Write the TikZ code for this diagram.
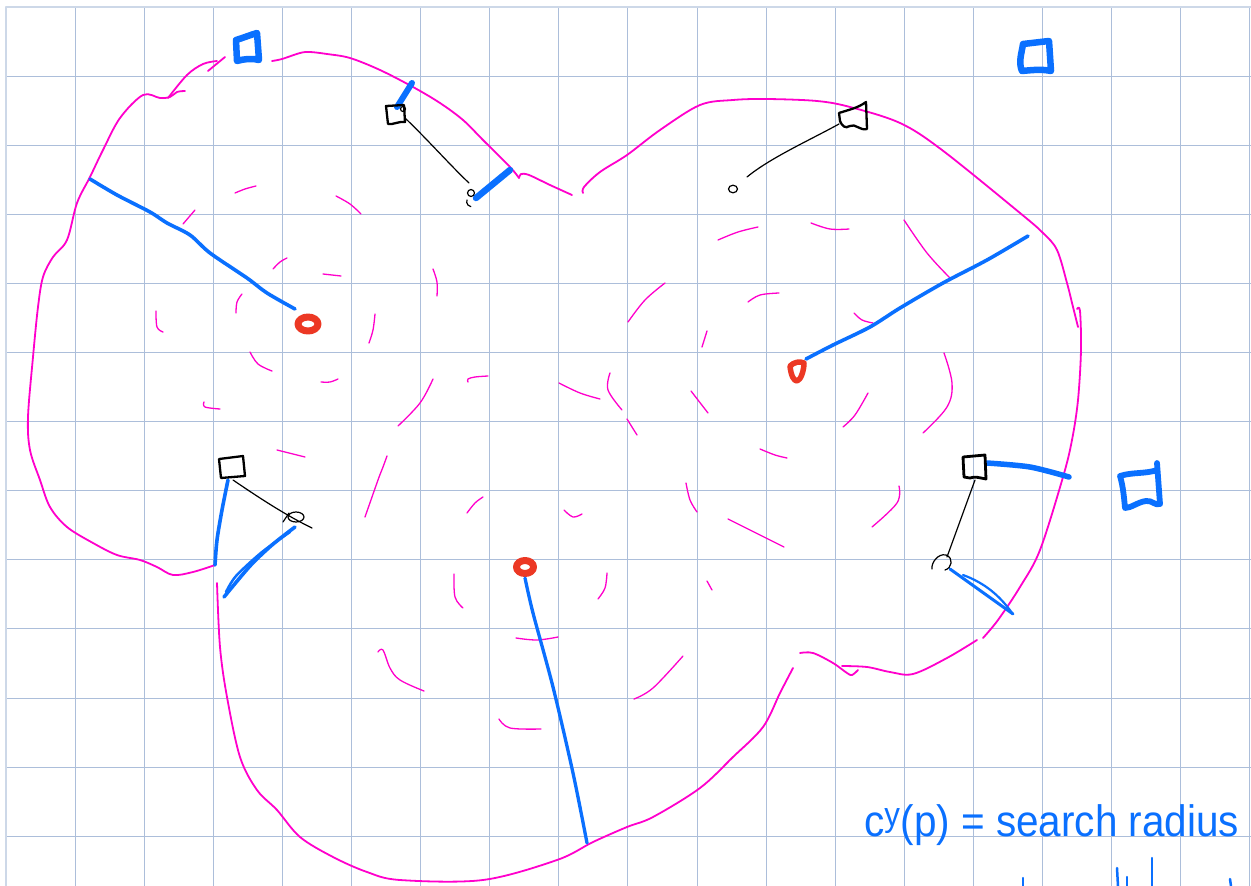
\documentclass[tikz,border=0pt]{standalone}
\usepackage{fontspec}
\setmainfont{Liberation Sans}
\definecolor{gridc}{RGB}{172,190,218}
\definecolor{gridb}{RGB}{205,216,232}
\definecolor{pinkc}{RGB}{255,0,204}
\definecolor{penblue}{RGB}{10,112,255}
\definecolor{redc}{RGB}{236,56,36}
\begin{document}
\begin{tikzpicture}[x=1pt,y=-1pt, line cap=round, line join=round,
  gridline/.style={draw=gridc, line width=0.9pt},
  outline/.style={draw=pinkc, line width=1.8pt},
  pinkdash/.style={draw=pinkc, line width=1.3pt},
  bluepen/.style={draw=penblue, line width=3.6pt},
  bluebox/.style={draw=penblue, line width=6.5pt},
  blackbox/.style={draw=black, line width=2.3pt},
  blackpen/.style={draw=black, line width=1.2pt},
  redmark/.style={draw=redc, line width=7pt}]
\useasboundingbox (0,0) rectangle (1251,886);
\fill[white] (0,0) rectangle (1251,886);
% grid
\foreach \i in {1,...,18} \draw[gridline] ({6+69.1*\i},7) -- ({6+69.1*\i},886);
\foreach \j in {1,...,12} \draw[gridline] (6,{7+69.1*\j}) -- (1251,{7+69.1*\j});
\draw[draw=gridb, line width=1.8pt] (6,886) -- (6,7) -- (1251,7);

% pink outline strokes
\draw[outline] plot[smooth, tension=0.55] coordinates {(215,565) (193,572) (173,575) (157,567) (140,560) (117,555) (93,543) (67,527) (50,507) (40,480) (30,450) (28,417) (33,357) (38,307) (43,277) (53,257) (67,240) (77,203) (90,177) (103,150) (120,118) (143,95) (160,98) (170,97) (177,92) (185,91)};
\draw[outline] plot[smooth, tension=0.55] coordinates {(168,98) (187,75) (203,64) (217,61)};
\draw[outline] (208,71) -- (225,57);
\draw[outline] plot[smooth, tension=0.55] coordinates {(272,61) (282,59) (300,53) (310,52) (327,54) (350,58) (380,70) (413,87) (440,103) (463,120) (483,140) (510,167) (519,178)};
\draw[outline] plot[smooth, tension=0.5] coordinates {(519,178) (521,174) (529,175) (550,185) (572,195)};
\draw[outline] plot[smooth, tension=0.55] coordinates {(583,193) (584,187) (600,172) (627,155) (660,130) (700,105) (733,100) (767,99) (817,101) (850,107) (900,123) (942,150) (1020,213) (1043,233) (1057,250) (1067,283) (1073,307) (1078,327)};
\draw[outline] plot[smooth, tension=0.55] coordinates {(1077,309) (1080,311) (1081,350) (1078,400) (1072,440) (1063,477) (1040,550) (1020,587) (998,620) (983,638)};
\draw[outline] plot[smooth, tension=0.55] coordinates {(977,640) (947,658) (913,674) (890,672) (867,667) (842,666)};
\draw[outline] plot[smooth, tension=0.55] coordinates {(800,653) (813,653) (833,663) (847,673) (852,675) (858,670)};
\draw[outline] plot[smooth, tension=0.55] coordinates {(793,668) (780,693) (763,727) (733,757) (700,788) (653,817) (627,827) (593,842) (557,860) (483,880) (400,880) (367,872) (333,857) (300,837) (277,810) (257,790) (240,757) (227,697) (220,647) (217,583)};

% pink interior dashes
\foreach \pts in {
 {(235,193) (245,189) (256,186)},
 {(336,196) (350,204) (361,214)},
 {(183,224) (195,210)},
 {(273,269) (280,262) (287,258)},
 {(323,274) (341,276)},
 {(242,294) (237,302) (236,313)},
 {(156,311) (157,327) (163,332)},
 {(375,314) (373,330) (369,343)},
 {(250,352) (258,364) (272,371)},
 {(321,382) (330,382) (338,379)},
 {(204,402) (205,407) (220,409)},
 {(398,426) (420,403) (433,379)},
 {(277,450) (305,457)},
 {(387,456) (383,467) (378,480) (365,517)},
 {(718,240) (738,232) (758,227)},
 {(811,223) (830,229) (849,229)},
 {(433,269) (437,282) (437,296)},
 {(628,322) (645,300) (665,283)},
 {(748,302) (760,295) (779,293)},
 {(707,331) (702,347)},
 {(468,382) (468,379) (475,377) (488,376)},
 {(559,383) (580,393) (600,399)},
 {(610,373) (608,390) (622,410)},
 {(627,419) (637,435)},
 {(691,391) (708,413)},
 {(760,449) (775,455) (787,458)},
 {(686,483) (690,500) (697,512)},
 {(904,220) (927,253) (950,278)},
 {(854,313) (862,320) (873,323)},
 {(944,353) (952,383) (947,407) (923,433)},
 {(868,393) (855,415) (843,427)},
 {(378,652) (383,650) (390,668) (400,680) (424,691)},
 {(467,513) (475,503) (483,497)},
 {(564,510) (573,517) (582,514)},
 {(454,574) (455,597) (463,608)},
 {(607,573) (605,588) (598,599)},
 {(516,638) (537,640) (558,637)},
 {(499,719) (510,728) (541,729)},
 {(634,699) (653,688) (683,656)},
 {(707,581) (712,590)},
 {(728,519) (784,547)},
 {(899,486) (897,503) (872,527)}}
 \draw[pinkdash] plot[smooth, tension=0.6] coordinates \pts;

% red markers (sites)
\draw[redmark] (308,324) ellipse (10 and 7);
\draw[redmark] (525,567) ellipse (8.5 and 6.5);
\draw[redmark, line width=5.5pt] (790,366) .. controls (791,376) and (794,381) .. (797,381) .. controls (801,380) and (804,370) .. (804,363) .. controls (800,361) and (794,362) .. (790,366) -- cycle;
\coordinate (r1) at (295,309);
\coordinate (r2) at (806,359);
\coordinate (r3) at (525,578);

% blue radius lines
\draw[bluepen] plot[smooth, tension=0.5] coordinates {(90,179) (117,195) (150,212) (167,223) (190,235) (210,253) (247,278) (267,293) (r1)};
\draw[bluepen] plot[smooth, tension=0.5] coordinates {(r2) (833,345) (870,327) (900,308) (943,283) (987,260) (1028,236)};
\draw[bluepen, line width=3.3pt] plot[smooth, tension=0.5] coordinates {(r3) (533,613) (553,687) (573,773) (587,843)};
\draw[bluepen, line width=6pt] (397,107) -- (412,83);
\draw[bluepen, line width=6.5pt] (476,198) -- (510,170);
\draw[bluepen, line width=5.5pt] plot[smooth, tension=0.5] coordinates {(987,463) (1030,467) (1069,477)};
\draw[bluepen] plot[smooth, tension=0.5] coordinates {(228,480) (222,510) (217,540) (215,565)};
\draw[bluepen] plot[smooth, tension=0.5] coordinates {(295,527) (272,545) (250,566) (224,597)};
\draw[bluepen, line width=2.5pt] plot[smooth, tension=0.5] coordinates {(290,532) (262,552) (236,576) (226,592)};
\draw[bluepen, line width=3pt] (950,569) -- (1013,614);
\draw[bluepen, line width=2.2pt] (963,575) .. controls (985,583) and (1000,596) .. (1012,613);

% blue squares
\draw[bluebox] (236,40) .. controls (243,38) and (250,35) .. (257,33) -- (259,60) .. controls (252,58) and (244,59) .. (237,61) -- cycle;
\draw[bluebox] (1023,44) .. controls (1032,43) and (1040,42) .. (1049,41) -- (1051,71) .. controls (1042,69) and (1032,70) .. (1022,71) .. controls (1018,62) and (1022,52) .. (1023,44) -- cycle;
\draw[bluebox, line width=5.8pt] (1157,463) -- (1160,504) .. controls (1155,506) and (1152,500) .. (1146,501) .. controls (1138,502) and (1131,508) .. (1125,508) .. controls (1124,497) and (1123,486) .. (1120,476) .. controls (1132,472) and (1146,474) .. (1157,470);

% black squares (generators)
\draw[blackbox] (386,106) -- (404,105) -- (405,122) .. controls (399,121) and (393,125) .. (388,124) -- cycle;
\draw[blackpen] (403,109) circle (2.5);
\draw[blackbox] (839,113) .. controls (848,110) and (858,108) .. (866,102) -- (867,129) .. controls (860,131) and (855,123) .. (850,126) .. controls (845,129) and (842,126) .. (840,121) -- cycle;
\draw[blackbox] (219,459) -- (243,456) -- (245,476) -- (221,478) -- cycle;
\draw[blackbox, line width=2.8pt] (963,457) -- (985,455) -- (986,479) .. controls (980,478) and (975,476) .. (970,478) -- (964,477) -- cycle;

% black connectors and small circles
\draw[blackpen] (405,118) .. controls (428,140) and (450,165) .. (469,183);
\draw[blackpen] (471,193) circle (3.5);
\draw[blackpen] (467,200) arc (200:100:5);
\draw[blackpen] (839,124) .. controls (810,140) and (770,158) .. (747,177);
\draw[blackpen] (733,189) ellipse (4.5 and 3.8);
\draw[blackpen] (233,480) .. controls (255,495) and (285,515) .. (312,528);
\draw[blackpen] (296,517) ellipse (8 and 5);
\draw[blackpen] (283,522) -- (289,513);
\draw[blackpen] (975,480) -- (947,557);
\draw[blackpen] (945,570) .. controls (952,568) and (954,558) .. (946,555) .. controls (938,553) and (931,563) .. (932,569);

% text
\node[anchor=base west, text=penblue, inner sep=0pt] (lbl) at (864,836) {\scalebox{0.92}[1]{\fontsize{44}{48}\selectfont c\textsuperscript{\fontsize{34}{34}\selectfont y}(p) = search radius}};
% cut-off second line of handwriting
\draw[bluepen, line width=2.5pt] (1023,878) -- (1023,886);
\draw[bluepen, line width=2.5pt] (1117,868) -- (1118,886);
\draw[bluepen, line width=2.5pt] (1127,877) -- (1127,886);
\draw[bluepen, line width=2.5pt] (1152,858) -- (1152,886);
\draw[bluepen, line width=2.5pt] (1230,879) -- (1231,886);
\end{tikzpicture}
\end{document}
